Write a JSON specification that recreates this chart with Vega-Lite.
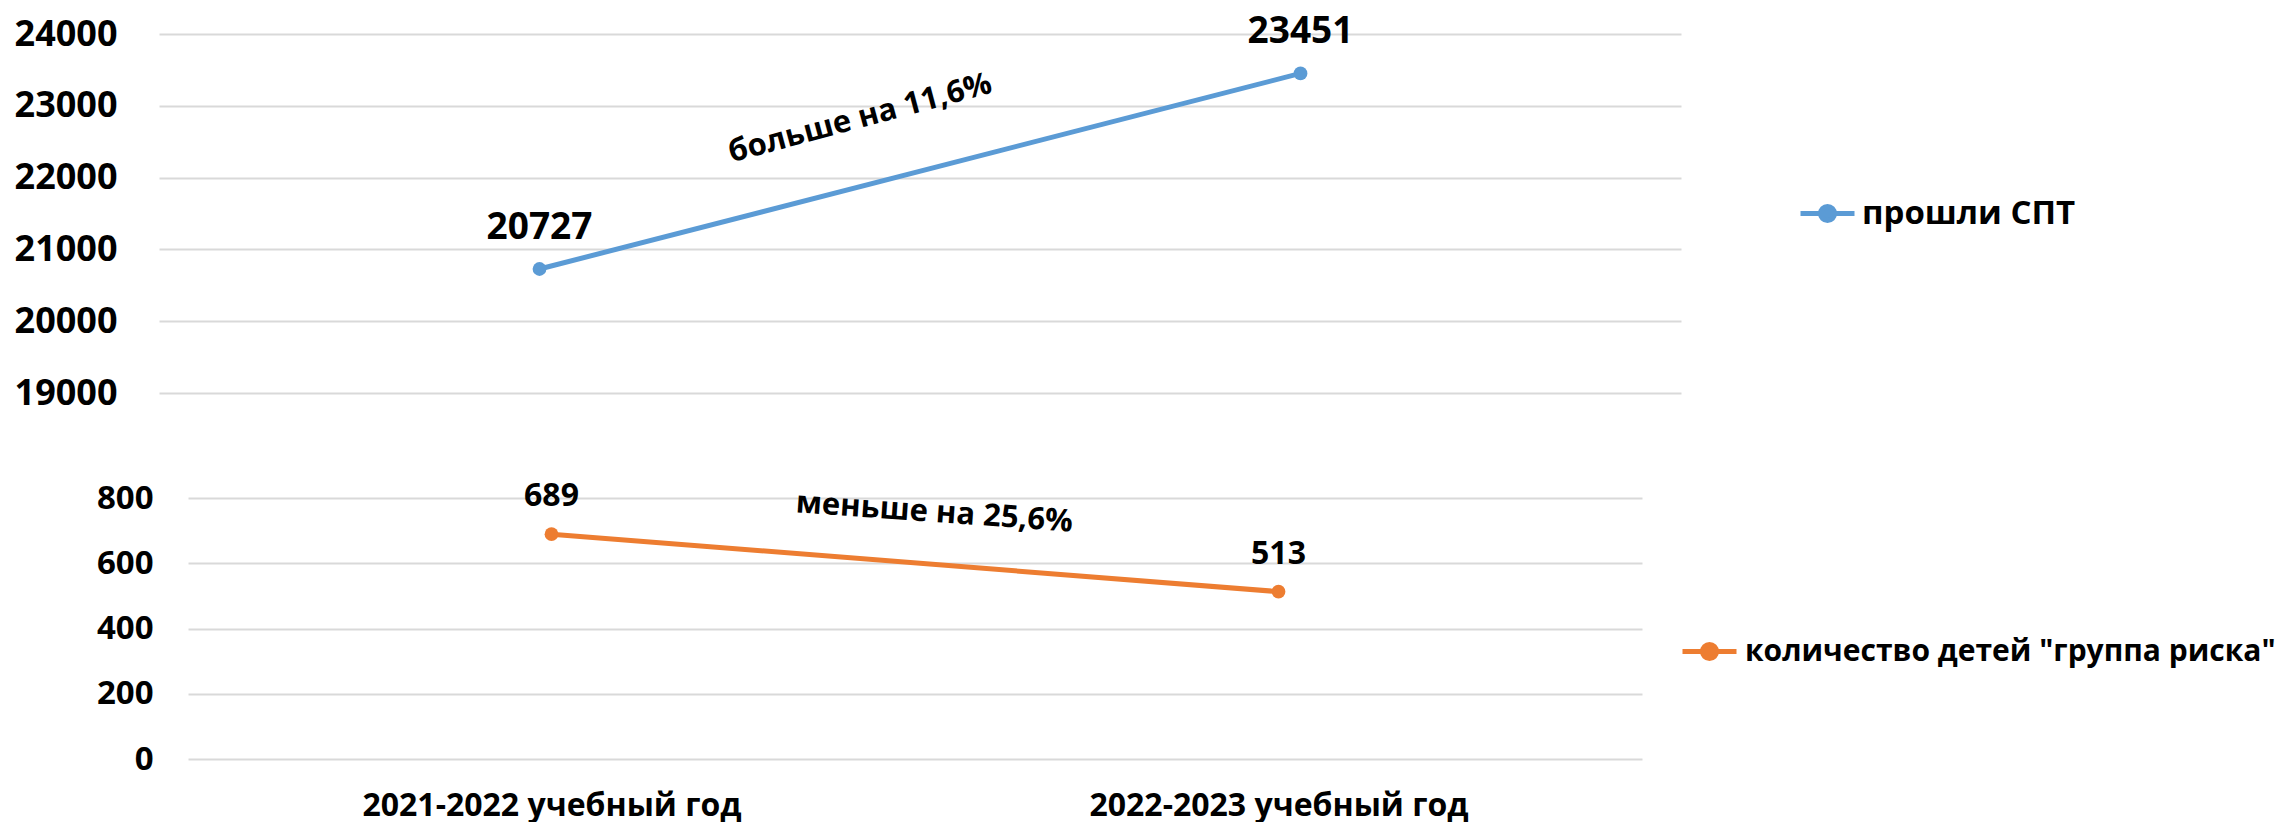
{
  "$schema": "https://vega.github.io/schema/vega-lite/v6.json",
  "padding": {"left": 0, "top": 13, "right": 0, "bottom": 8},
  "background": "white",
  "config": {"view": {"stroke": null}, "font": "Open Sans"},
  "datasets": {
    "spt": [
      {"year": "2021-2022 учебный год", "series": "прошли СПТ", "value": 20727},
      {"year": "2022-2023 учебный год", "series": "прошли СПТ", "value": 23451}
    ],
    "risk": [
      {"year": "2021-2022 учебный год", "series": "количество детей \"группа риска\"", "value": 689},
      {"year": "2022-2023 учебный год", "series": "количество детей \"группа риска\"", "value": 513}
    ]
  },
  "columns": 1,
  "align": "none",
  "spacing": 69,
  "resolve": {"scale": {"x": "independent", "y": "independent", "color": "independent"}, "legend": {"color": "independent"}},
  "concat": [
    {
      "width": 1493,
      "height": 359,
      "data": {"name": "spt"},
      "encoding": {
        "x": {"field": "year", "type": "nominal", "scale": {"type": "point", "padding": 0.5, "range": [-29, 1493]}, "axis": null},
        "y": {"field": "value", "type": "quantitative",
          "scale": {"domain": [19000, 24000], "nice": false, "zero": false},
          "axis": {"values": [19000, 20000, 21000, 22000, 23000, 24000], "title": null, "domain": false, "ticks": false, "tickSize": 0,
            "labelPadding": 71, "labelFontSize": 36, "labelFontWeight": "bold", "labelFont": "Open Sans", "labelColor": "#000000",
            "gridColor": "#D9D9D9", "gridWidth": 2, "minExtent": 188, "maxExtent": 188, "labelFlush": false, "format": "d"}}
      },
      "layer": [
        {"mark": {"type": "line", "strokeWidth": 5},
          "encoding": {"color": {"field": "series", "type": "nominal", "scale": {"range": ["#5B9BD5"]},
            "legend": {"title": null, "orient": "none", "legendX": 1610, "legendY": 150, "padding": 0,
              "symbolType": "M-1,0H1M-0.26,0A0.26,0.26,0,1,1,0.26,0A0.26,0.26,0,1,1,-0.26,0Z",
              "symbolSize": 2916, "symbolStrokeWidth": 5, "labelFontSize": 33, "labelFont": "Open Sans", "labelFontWeight": "bold",
              "labelColor": "#000000", "labelLimit": 1000, "labelOffset": 5,
              "encode": {"symbols": {"update": {"fill": {"value": "#5B9BD5"}, "stroke": {"value": "#5B9BD5"}, "opacity": {"value": 1}}}}}}}},
        {"mark": {"type": "point", "filled": true, "size": 190, "color": "#5B9BD5", "opacity": 1}},
        {"mark": {"type": "text", "dy": -30, "baseline": "alphabetic", "align": "center", "fontSize": 37, "fontWeight": "bold", "font": "Open Sans", "color": "#000000"},
          "encoding": {"text": {"field": "value", "type": "quantitative", "format": "d"}}},
        {"transform": [{"filter": "datum.year === '2021-2022 учебный год'"}],
          "mark": {"type": "text", "text": "больше на 11,6%", "angle": 345, "dx": 348.7, "dy": -62.2, "baseline": "middle", "align": "center", "fontSize": 31, "fontWeight": "bold", "font": "Open Sans", "color": "#000000"}}
      ]
    },
    {
      "width": 1454,
      "height": 261,
      "data": {"name": "risk"},
      "encoding": {
        "x": {"field": "year", "type": "nominal", "scale": {"type": "point", "padding": 0.5},
          "axis": {"title": null, "labelAngle": 0, "domain": false, "ticks": false, "tickSize": 0, "grid": false, "labelPadding": 31,
            "labelFontSize": 32, "labelFontWeight": "bold", "labelFont": "Open Sans", "labelColor": "#000000", "labelLimit": 1000}},
        "y": {"field": "value", "type": "quantitative",
          "scale": {"domain": [0, 800], "nice": false},
          "axis": {"values": [0, 200, 400, 600, 800], "title": null, "domain": false, "ticks": false, "tickSize": 0,
            "labelPadding": 35, "labelFontSize": 33, "labelFontWeight": "bold", "labelFont": "Open Sans", "labelColor": "#000000",
            "gridColor": "#D9D9D9", "gridWidth": 2, "minExtent": 188, "maxExtent": 188, "labelFlush": false}}
      },
      "layer": [
        {"mark": {"type": "line", "strokeWidth": 5},
          "encoding": {"color": {"field": "series", "type": "nominal", "scale": {"range": ["#ED7D31"]},
            "legend": {"title": null, "orient": "none", "legendX": 1492, "legendY": 124, "padding": 0,
              "symbolType": "M-1,0H1M-0.26,0A0.26,0.26,0,1,1,0.26,0A0.26,0.26,0,1,1,-0.26,0Z",
              "symbolSize": 2916, "symbolStrokeWidth": 5, "labelFontSize": 30, "labelFont": "Open Sans", "labelFontWeight": "bold",
              "labelColor": "#000000", "labelLimit": 1000, "labelOffset": 6,
              "encode": {"symbols": {"update": {"fill": {"value": "#ED7D31"}, "stroke": {"value": "#ED7D31"}, "opacity": {"value": 1}}}}}}}},
        {"mark": {"type": "point", "filled": true, "size": 190, "color": "#ED7D31", "opacity": 1}},
        {"mark": {"type": "text", "dy": -28, "baseline": "alphabetic", "align": "center", "fontSize": 32, "fontWeight": "bold", "font": "Open Sans", "color": "#000000"},
          "encoding": {"text": {"field": "value", "type": "quantitative", "format": "d"}}},
        {"transform": [{"filter": "datum.year === '2021-2022 учебный год'"}],
          "mark": {"type": "text", "text": "меньше на 25,6%", "angle": 4, "dx": 380.4, "dy": -47.9, "baseline": "middle", "align": "center", "fontSize": 31, "fontWeight": "bold", "font": "Open Sans", "color": "#000000"}}
      ]
    }
  ]
}
